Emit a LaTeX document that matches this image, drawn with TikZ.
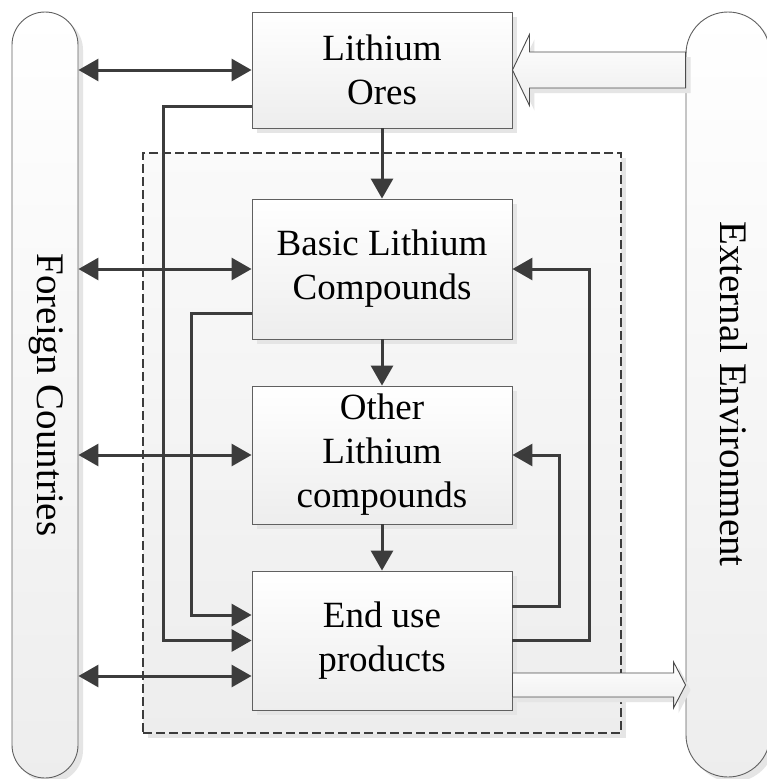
\documentclass[tikz,border=0pt]{standalone}
\usepackage{fontspec}
\setmainfont{Liberation Serif}
\usetikzlibrary{arrows.meta,calc,shadows}
\definecolor{lineC}{HTML}{3C3C3C}
\definecolor{edgeC}{HTML}{606060}
\begin{document}
\begin{tikzpicture}[x=1pt,y=-1pt,
  shade/.style={top color=white, bottom color=black!7},
  shad/.style={drop shadow={shadow xshift=5pt, shadow yshift=-5pt, fill=black!10, opacity=1}},
  stage/.style={draw=edgeC, line width=0.9pt, shade, shad, minimum width=260pt,
    align=center, inner sep=0pt, font=\fontsize{37pt}{44pt}\selectfont},
  pill/.style={draw=edgeC, line width=0.9pt, shade, shad, inner sep=0pt},
  pilltext/.style={rotate=-90, font=\fontsize{39pt}{44pt}\selectfont},
  conn/.style={draw=lineC, line width=3pt},
  tip/.style={-{Triangle[length=20pt,width=22pt]}},
  tips/.style={{Triangle[length=20pt,width=22pt]}-{Triangle[length=20pt,width=22pt]}},
  bigarrow/.style={draw=black!70, line width=0.9pt, shade, shad}]

\clip (0,0) rectangle (767,779);
\fill[white] (0,0) rectangle (767,779);

% system boundary
\node[draw=lineC, line width=1.3pt, dash pattern=on 9pt off 4pt,
  top color=black!2, bottom color=black!7, shad,
  minimum width=478pt, minimum height=580pt, inner sep=0pt] (D) at (382,443) {};

% side bars
\node[pill, minimum width=66pt, minimum height=766pt, rounded corners=33pt] (F) at (45,395) {};
\node[pilltext] (FT) at (46,395) {Foreign Countries};
\node[pill, minimum width=84pt, minimum height=765pt, rounded corners=42pt] (X) at (728,394.5) {};
\node[pilltext] (XT) at (734,394) {External Environment};

% stages
\node[stage, minimum height=116pt] (O) at (382,70) {Lithium\\Ores};
\node[stage, minimum height=140pt] (B) at (382,269) {Basic Lithium\\Compounds};
\node[stage, minimum height=138pt] (M) at (382,455) {Other\\Lithium\\compounds};
\node[stage, minimum height=139pt] (E) at (382,640.5) {End use\\products};

% main flow
\draw[conn, tip] (O.south) -- (B.north);
\draw[conn, tip] (B.south) -- (M.north);
\draw[conn, tip] (M.south) -- (E.north);

% trade with foreign countries
\draw[conn, tips] (F.east |- O.west) -- (O.west);
\draw[conn, tips] (F.east |- B.west) -- (B.west);
\draw[conn, tips] (F.east |- M.west) -- (M.west);
\coordinate (eT) at ([yshift=-35.5pt]E.west);
\draw[conn, tips] (F.east |- eT) -- (eT);

% direct supply to end use
\draw[conn, tip] ([yshift=-36pt]O.west) -- ++(-88,0) |- (E.west);
\draw[conn, tip] ([yshift=-44pt]B.west) -- ++(-60,0) |- ([yshift=25.5pt]E.west);

% recycling loops
\draw[conn, tip] ([yshift=34.5pt]E.east) -- ++(47,0) |- (M.east);
\draw[conn, tip] (E.east) -- ++(77,0) |- (B.east);

% exchange with the external environment
\coordinate (inTip) at (O.east);
\coordinate (inTail) at (X.west |- O.east);
\path[bigarrow] (inTip) -- ++(17,-35.5) -- ++(0,17.5) -- ($(inTail)+(0,-18)$)
  -- ($(inTail)+(0,18)$) -- ($(inTip)+(17,18)$) -- ($(inTip)+(17,35.5)$) -- cycle;

\coordinate (outTail) at ([yshift=-44.5pt]E.east);
\coordinate (outTip) at (X.west |- outTail);
\path[bigarrow] ($(outTail)+(0,-12)$) -- ($(outTip)+(-12,-12)$) -- ($(outTip)+(-12,-23)$)
  -- (outTip) -- ($(outTip)+(-12,23)$) -- ($(outTip)+(-12,12)$) -- ($(outTail)+(0,12)$) -- cycle;

\end{tikzpicture}
\end{document}
